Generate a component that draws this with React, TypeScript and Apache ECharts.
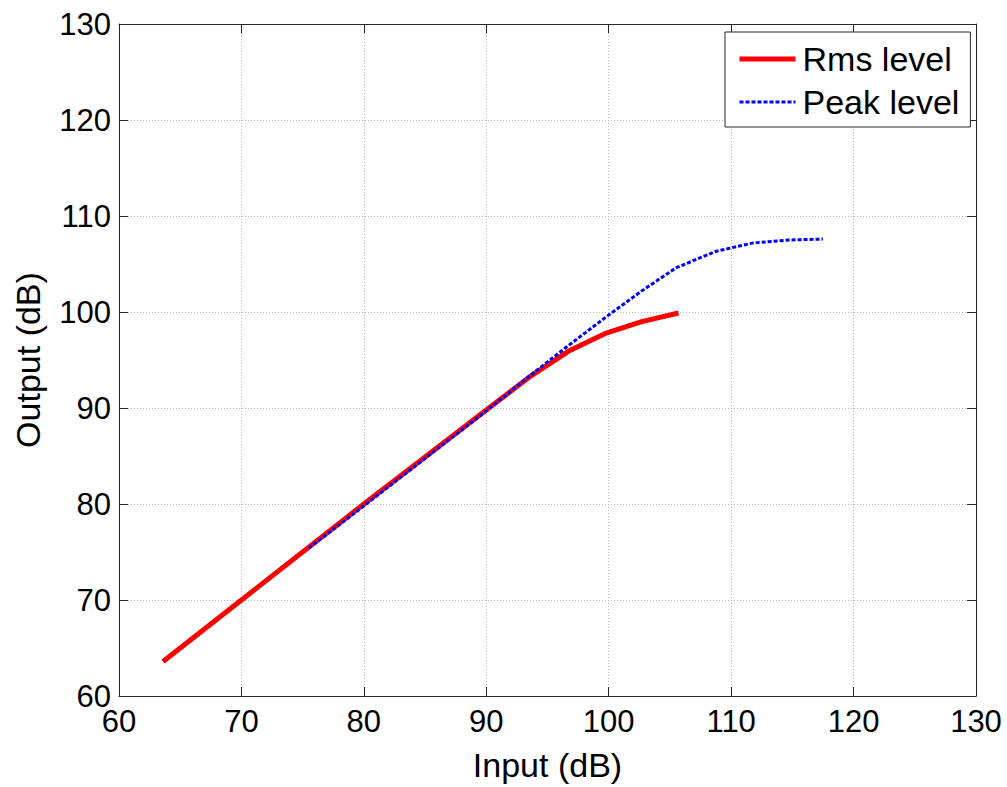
import React, { useEffect, useRef } from "react";
import * as echarts from "echarts";

const rmsInput = [63.6, 70, 80, 90, 93.6, 96.7, 99.8, 102.7, 105.7];
const rmsOutput = [63.6, 70, 80, 89.8, 93.3, 95.9, 97.8, 99.0, 99.9];
const peakInput = [75.5, 80, 90, 93.5, 96.5, 99.8, 102.7, 105.5, 108.7, 111.8, 114.8, 117.5];
const peakOutput = [75.4, 79.8, 89.7, 93.3, 96.3, 99.5, 102.2, 104.6, 106.3, 107.2, 107.5, 107.6];
const axisMin = 60;
const axisMax = 130;
const tickStep = 10;

const FONT = "'Liberation Sans', Arial, Helvetica, sans-serif";

export default function App() {
  const ref = useRef<HTMLDivElement>(null);
  useEffect(() => {
    if (!ref.current) return;
    const chart = echarts.init(ref.current, undefined, { renderer: "svg" });
    const axisLine = { show: true, lineStyle: { color: "#262626", width: 1 } };
    const tick = { show: true, inside: true, length: 9, lineStyle: { color: "#262626" } };
    const split = { show: true, lineStyle: { color: "#b8b8b8", type: [1, 2], width: 1 } };
    const label = { color: "#000", fontSize: 31, fontFamily: FONT };
    chart.setOption({
      animation: false,
      backgroundColor: "#fff",
      grid: { left: 119, right: 31, top: 24, bottom: 90, containLabel: false },
      legend: {
        orient: "vertical",
        left: 725,
        top: 32,
        backgroundColor: "#fff",
        borderColor: "#262626",
        borderWidth: 1,
        borderRadius: 0,
        padding: [10, 11, 8, 12],
        itemGap: 9,
        itemWidth: 56,
        itemHeight: 14,
        itemStyle: { opacity: 0 },
        textStyle: { color: "#000", fontSize: 34, fontFamily: FONT, padding: [0, 0, 0, 2] },
        data: [
          { name: "Rms level", lineStyle: { width: 5, color: "#ff0000" } },
          { name: "Peak level", lineStyle: { width: 3, color: "#0000ff", type: [4, 2] } },
        ],
      },
      xAxis: [
        {
          type: "value",
          min: axisMin,
          max: axisMax,
          interval: tickStep,
          position: "bottom",
          axisLine,
          axisTick: tick,
          splitLine: split,
          axisLabel: { ...label, margin: 10 },
          name: "Input (dB)",
          nameLocation: "middle",
          nameGap: 52,
          nameTextStyle: { color: "#000", fontSize: 34, fontFamily: FONT },
        },
        {
          type: "value",
          min: axisMin,
          max: axisMax,
          interval: tickStep,
          position: "top",
          axisLine,
          axisTick: tick,
          splitLine: { show: false },
          axisLabel: { show: false },
        },
      ],
      yAxis: [
        {
          type: "value",
          min: axisMin,
          max: axisMax,
          interval: tickStep,
          position: "left",
          axisLine,
          axisTick: tick,
          splitLine: split,
          axisLabel: { ...label, margin: 8 },
          name: "Output (dB)",
          nameLocation: "middle",
          nameGap: 74,
          nameRotate: 90,
          nameTextStyle: { color: "#000", fontSize: 34, fontFamily: FONT },
        },
        {
          type: "value",
          min: axisMin,
          max: axisMax,
          interval: tickStep,
          position: "right",
          axisLine,
          axisTick: tick,
          splitLine: { show: false },
          axisLabel: { show: false },
        },
      ],
      series: [
        {
          name: "Rms level",
          type: "line",
          xAxisIndex: 0,
          yAxisIndex: 0,
          showSymbol: false,
          symbol: "none",
          data: rmsInput.map((x, i) => [x, rmsOutput[i]]),
          lineStyle: { color: "#ff0000", width: 5 },
          itemStyle: { color: "#ff0000" },
          z: 3,
        },
        {
          name: "Peak level",
          type: "line",
          xAxisIndex: 0,
          yAxisIndex: 0,
          showSymbol: false,
          symbol: "none",
          data: peakInput.map((x, i) => [x, peakOutput[i]]),
          lineStyle: { color: "#0000ff", width: 3, type: [4, 2] },
          itemStyle: { color: "#0000ff" },
          z: 4,
        },
      ],
    });
    return () => chart.dispose();
  }, []);
  return <div ref={ref} style={{ width: 1007, height: 787, position: "absolute", left: 0, top: 0 }} />;
}
